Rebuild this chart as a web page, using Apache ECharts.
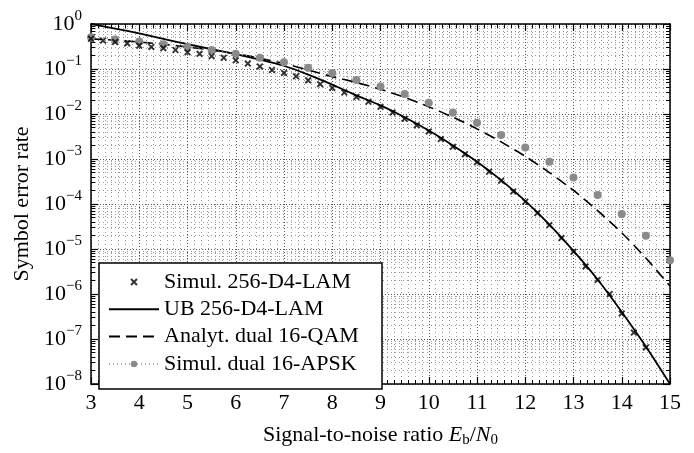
<!DOCTYPE html>
<html><head><meta charset="utf-8">
<script src="https://cdn.jsdelivr.net/npm/echarts@6/dist/echarts.min.js"></script>
<style>html,body{margin:0;padding:0;background:#fff}#c{width:694px;height:453px}</style>
</head><body><div id="c"></div>
<script>
// ---------- data ----------
const snrFine = [3,3.25,3.5,3.75,4,4.25,4.5,4.75,5,5.25,5.5,5.75,6,6.25,6.5,6.75,7,7.25,7.5,7.75,8,8.25,8.5,8.75,9,9.25,9.5,9.75,10,10.25,10.5,10.75,11,11.25,11.5,11.75,12,12.25,12.5,12.75,13,13.25,13.5,13.75,14,14.25,14.5];
const simLAM = [0.47,0.43,0.40,0.37,0.33,0.31,0.29,0.264,0.235,0.217,0.193,0.178,0.156,0.132,0.114,0.095,0.082,0.0686,0.056,0.046,0.038,0.030,0.024,0.0187,0.0144,0.0108,0.0078,0.0056,0.0041,0.00277,0.00186,0.00128,0.00085,5.2e-4,3.3e-4,1.9e-4,1.12e-4,6.3e-5,3.4e-5,1.75e-5,8.7e-6,4.1e-6,2.06e-6,1.0e-6,3.7e-7,1.39e-7,6.5e-8];
const snrHalf = [3,3.5,4,4.5,5,5.5,6,6.5,7,7.5,8,8.5,9,9.5,10,10.5,11,11.5,12,12.5,13,13.5,14,14.5,15];
const ubLAM = [1,0.79,0.62,0.47,0.355,0.275,0.214,0.162,0.118,0.075,0.045,0.026,0.0155,0.0085,0.0043,0.0020,8.7e-4,3.4e-4,1.17e-4,3.5e-5,9.1e-6,2.1e-6,4.0e-7,6.8e-8,1e-8];
const analytQAM = [0.468,0.437,0.398,0.355,0.309,0.263,0.219,0.174,0.132,0.0955,0.0676,0.0501,0.0355,0.0234,0.0145,0.0085,0.00468,0.0024,0.00115,5.0e-4,2.0e-4,7.1e-5,2.3e-5,6.3e-6,1.5e-6];
const simAPSK = [0.51,0.45,0.41,0.355,0.31,0.264,0.217,0.178,0.141,0.107,0.082,0.057,0.041,0.0277,0.0178,0.0108,0.0064,0.0034,0.0018,0.00087,3.9e-4,1.58e-4,6.0e-5,1.96e-5,5.6e-6];
const seriesNames = ['Simul. 256-D4-LAM','UB 256-D4-LAM','Analyt. dual 16-QAM','Simul. dual 16-APSK'];
const xMin = 3, xMax = 15, yMin = 1e-8, yMax = 1;

// ---------- styling helpers ----------
const FONT = 'Liberation Serif';
const minorY = [];
for (let e = -8; e < 0; e++) for (let m = 2; m <= 9; m++) minorY.push(m * Math.pow(10, e));
const pair = (xs, ys) => xs.map((x, i) => [x, ys[i]]);
const xMarker = 'path://M0.7,-0.7L6.7,5.3L5.3,6.7L-0.7,0.7Z M6.7,0.7L0.7,6.7L-0.7,5.3L5.3,-0.7Z';
const xLegendIcon = 'path://M0,0h0.01v0.01h-0.01Z M50,8h0.01v0.01h-0.01Z M22.7,0.3L28.7,6.3L27.3,7.7L21.3,1.7Z M28.7,1.7L22.7,7.7L21.3,6.3L27.3,0.3Z';
const axLine = {show:true, onZero:false, lineStyle:{color:'#000', width:1.5}};
const supLabel = v => {
  const e = Math.round(Math.log10(v));
  return '{b|10}{s|' + (e < 0 ? '\u2212' + (-e) : e) + '}';
};

const chart = echarts.init(document.getElementById('c'), null, {renderer:'canvas'});
chart.setOption({
  animation:false,
  backgroundColor:'#fff',
  grid:{left:91, right:24, top:24, bottom:56, containLabel:false},
  xAxis:[
    {type:'value', min:xMin, max:xMax, interval:1, position:'bottom',
     axisLine:axLine,
     axisTick:{show:true, inside:true, length:7, lineStyle:{color:'#000', width:1.2}},
     minorTick:{show:true, splitNumber:7, length:4, lineStyle:{color:'#000', width:1}},
     splitLine:{show:true, lineStyle:{color:'#555', type:[1,2], width:1}},
     minorSplitLine:{show:true, lineStyle:{color:'#999', type:[1,3], width:1}},
     axisLabel:{fontFamily:FONT, fontSize:22, color:'#000', margin:8},
     name:'Signal-to-noise ratio {i|E}{sub|b}/{i|N}{sub|0}',
     nameLocation:'middle', nameGap:38,
     nameTextStyle:{fontFamily:FONT, fontSize:22, color:'#000', lineHeight:26,
       rich:{i:{fontFamily:FONT, fontSize:22, fontStyle:'italic', color:'#000', lineHeight:26},
             sub:{fontFamily:FONT, fontSize:15, color:'#000', verticalAlign:'bottom'}}}
    },
    {type:'value', min:xMin, max:xMax, interval:1, position:'top',
     axisLine:axLine,
     axisTick:{show:true, inside:true, length:7, lineStyle:{color:'#000', width:1.2}},
     minorTick:{show:true, splitNumber:7, length:4, lineStyle:{color:'#000', width:1}},
     splitLine:{show:false}, axisLabel:{show:false}}
  ],
  yAxis:[
    {type:'log', logBase:10, min:yMin, max:yMax, splitNumber:8, position:'left',
     axisLine:axLine,
     axisTick:{show:true, inside:true, length:7, lineStyle:{color:'#000', width:1.2}},
     splitLine:{show:true, lineStyle:{color:'#555', type:[1,2], width:1}},
     axisLabel:{formatter:supLabel, margin:9,
       rich:{b:{fontFamily:FONT, fontSize:22, color:'#000', lineHeight:30},
             s:{fontFamily:FONT, fontSize:15, color:'#000', verticalAlign:'top'}}},
     name:'Symbol error rate', nameLocation:'middle', nameGap:56,
     nameTextStyle:{fontFamily:FONT, fontSize:22, color:'#000'}
    },
    {type:'log', logBase:10, min:yMin, max:yMax, position:'left',
     axisLine:{show:false},
     axisTick:{show:true, inside:true, length:4, customValues:minorY, lineStyle:{color:'#000', width:1}},
     splitLine:{show:true, lineStyle:{color:'#999', type:[1,3], width:1}},
     axisLabel:{show:false}},
    {type:'log', logBase:10, min:yMin, max:yMax, splitNumber:8, position:'right',
     axisLine:axLine,
     axisTick:{show:true, inside:true, length:7, lineStyle:{color:'#000', width:1.2}},
     splitLine:{show:false}, axisLabel:{show:false}},
    {type:'log', logBase:10, min:yMin, max:yMax, position:'right',
     axisLine:{show:false},
     axisTick:{show:true, inside:true, length:4, customValues:minorY, lineStyle:{color:'#000', width:1}},
     splitLine:{show:false}, axisLabel:{show:false}}
  ],
  legend:{
    orient:'vertical', left:99, top:263,
    itemWidth:50, itemHeight:8, itemGap:5.3,
    padding:[8,10,14,9],
    backgroundColor:'#fff', borderColor:'#000', borderWidth:1.5, borderRadius:0,
    textStyle:{fontFamily:FONT, fontSize:22, color:'#000', width:208, lineHeight:22},
    selectedMode:false,
    data:[
      {name:seriesNames[0], icon:xLegendIcon},
      {name:seriesNames[1], itemStyle:{opacity:0}},
      {name:seriesNames[2], itemStyle:{opacity:0}},
      {name:seriesNames[3]}
    ]
  },
  series:[
    {name:seriesNames[0], type:'scatter', data:pair(snrFine, simLAM),
     symbol:xMarker, symbolSize:7, itemStyle:{color:'#000'}, z:5},
    {name:seriesNames[1], type:'line', data:pair(snrHalf, ubLAM), symbol:'none', smooth:0.2,
     lineStyle:{color:'#000', width:1.8}, itemStyle:{color:'#000'}, z:3},
    {name:seriesNames[2], type:'line', data:pair(snrHalf, analytQAM), symbol:'none', smooth:0.2,
     lineStyle:{color:'#000', width:1.6, type:[11,6]}, itemStyle:{color:'#000'}, z:3},
    {name:seriesNames[3], type:'line', data:pair(snrHalf, simAPSK), symbol:'circle', symbolSize:8,
     lineStyle:{color:'#aaa', width:1, type:[1,3]}, itemStyle:{color:'#8a8a8a'}, z:4}
  ]
});
</script></body></html>
